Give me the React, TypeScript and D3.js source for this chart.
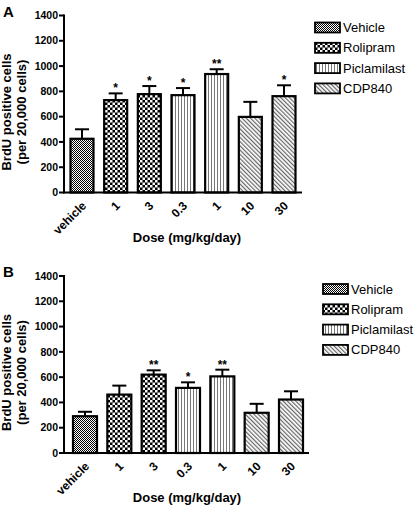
import React from "react";
import * as d3 from "d3";

const categories = ["vehicle", "1", "3", "0.3", "1", "10", "30"];
const groups = ["Vehicle", "Rolipram", "Rolipram", "Piclamilast", "Piclamilast", "CDP840", "CDP840"];
const legendItems = ["Vehicle", "Rolipram", "Piclamilast", "CDP840"];
const yTicks = [0, 200, 400, 600, 800, 1000, 1200, 1400];

const meansA = [425, 731, 778, 770, 937, 598, 762];
const errA = [75, 53, 64, 56, 38, 119, 86];
const starsA = ["", "*", "*", "*", "**", "", "*"];

const meansB = [291, 462, 620, 515, 606, 318, 423];
const errB = [35, 71, 34, 44, 53, 71, 65];
const starsB = ["", "", "**", "*", "**", "", ""];

const FONT = "'Liberation Sans', Arial, sans-serif";

const patternId: Record<string, string> = {
  Vehicle: "url(#pVehicle)",
  Rolipram: "url(#pRolipram)",
  Piclamilast: "url(#pPiclamilast)",
  CDP840: "url(#pCDP840)",
};

type PanelProps = {
  label: string;
  means: number[];
  errs: number[];
  stars: string[];
  y0: number;
  y1400: number;
  xFirst: number;
  xLast: number;
  barW: number;
  legendX: number;
  legendY: number;
  axisEnd: number;
};

function Panel(p: PanelProps) {
  const axisX = 64;
  const y = d3.scaleLinear().domain([0, 1400]).range([p.y0, p.y1400]);
  const x = d3
    .scalePoint<number>()
    .domain(categories.map((_, i) => i))
    .range([p.xFirst, p.xLast]);
  const capW = 14;
  const midY = (p.y0 + p.y1400) / 2 + 8;
  return (
    <g>
      <text x={3} y={p.y1400 + 1} fontFamily={FONT} fontWeight="bold" fontSize={15}>
        {p.label}
      </text>
      <text
        transform={`translate(11,${midY}) rotate(-90)`}
        textAnchor="middle"
        fontFamily={FONT}
        fontWeight="bold"
        fontSize={13}
      >
        BrdU positive cells
      </text>
      <text
        transform={`translate(26,${midY}) rotate(-90)`}
        textAnchor="middle"
        fontFamily={FONT}
        fontWeight="bold"
        fontSize={13}
      >
        (per 20,000 cells)
      </text>
      {p.means.map((m, i) => {
        const cx = x(i) as number;
        const top = y(m);
        const et = y(m + p.errs[i]);
        return (
          <g key={i}>
            <line x1={cx} x2={cx} y1={top} y2={et} stroke="#000" strokeWidth={2} />
            <line x1={cx - capW / 2} x2={cx + capW / 2} y1={et} y2={et} stroke="#000" strokeWidth={2} />
            <rect
              x={cx - p.barW / 2}
              y={top}
              width={p.barW}
              height={p.y0 - top}
              fill={patternId[groups[i]]}
              stroke="#000"
              strokeWidth={2.2}
            />
            {p.stars[i] && (
              <text
                x={cx}
                y={et - 1}
                textAnchor="middle"
                fontFamily={FONT}
                fontWeight="bold"
                fontSize={12}
              >
                {p.stars[i]}
              </text>
            )}
            <text
              transform={`translate(${cx + 2},${p.y0 + 11}) rotate(-45)`}
              textAnchor="end"
              dy="0.35em"
              fontFamily={FONT}
              fontWeight="bold"
              fontSize={12}
            >
              {categories[i]}
            </text>
          </g>
        );
      })}
      <line x1={axisX} x2={axisX} y1={p.y1400 - 1} y2={p.y0 + 1} stroke="#000" strokeWidth={2} />
      <line x1={axisX - 1} x2={p.axisEnd} y1={p.y0} y2={p.y0} stroke="#000" strokeWidth={2} />
      {yTicks.map((t) => (
        <g key={t}>
          <line x1={axisX - 5} x2={axisX} y1={y(t)} y2={y(t)} stroke="#000" strokeWidth={2} />
          <text
            x={axisX - 6}
            y={y(t)}
            textAnchor="end"
            dy="0.35em"
            fontFamily={FONT}
            fontWeight="bold"
            fontSize={10.5}
          >
            {t}
          </text>
        </g>
      ))}
      <text
        x={187}
        y={p.y0 + 49}
        textAnchor="middle"
        fontFamily={FONT}
        fontWeight="bold"
        fontSize={13}
      >
        Dose (mg/kg/day)
      </text>
      {legendItems.map((g, i) => {
        const cy = p.legendY + i * 20.3;
        return (
          <g key={g}>
            <rect
              x={p.legendX}
              y={cy - 5}
              width={25}
              height={10}
              fill={patternId[g]}
              stroke="#000"
              strokeWidth={1.8}
            />
            <text
              x={p.legendX + 28}
              y={cy}
              dy="0.35em"
              fontFamily={FONT}
              fontSize={13}
            >
              {g}
            </text>
          </g>
        );
      })}
    </g>
  );
}

export default function App() {
  return (
    <svg width={414} height={506} style={{ display: "block", position: "absolute", left: 0, top: 0 }}>
      <defs>
        <pattern id="pVehicle" width={2} height={2} patternUnits="userSpaceOnUse">
          <rect width={2} height={2} fill="#fff" />
          <rect x={0} y={0} width={1} height={1} fill="#000" />
          <rect x={1} y={1} width={1} height={1} fill="#000" />
        </pattern>
        <pattern id="pRolipram" width={5} height={5} patternUnits="userSpaceOnUse">
          <rect width={5} height={5} fill="#000" />
          <rect x={0} y={0} width={2.5} height={2.5} fill="#fff" />
          <rect x={2.5} y={2.5} width={2.5} height={2.5} fill="#fff" />
        </pattern>
        <pattern id="pPiclamilast" width={3} height={3} patternUnits="userSpaceOnUse">
          <rect width={3} height={3} fill="#fff" />
          <rect x={1} y={0} width={1} height={3} fill="#777" />
        </pattern>
        <pattern
          id="pCDP840"
          width={3}
          height={3}
          patternUnits="userSpaceOnUse"
          patternTransform="rotate(-45)"
        >
          <rect width={3} height={3} fill="#fff" />
          <rect x={0} y={0} width={1.2} height={3} fill="#666" />
        </pattern>
      </defs>
      <Panel
        label="A"
        means={meansA}
        errs={errA}
        stars={starsA}
        y0={192.5}
        y1400={15.5}
        xFirst={82}
        xLast={284}
        barW={23}
        legendX={315}
        legendY={27.5}
        axisEnd={302}
      />
      <Panel
        label="B"
        means={meansB}
        errs={errB}
        stars={starsB}
        y0={453}
        y1400={276}
        xFirst={85}
        xLast={291}
        barW={24}
        legendX={323}
        legendY={289}
        axisEnd={309}
      />
    </svg>
  );
}
